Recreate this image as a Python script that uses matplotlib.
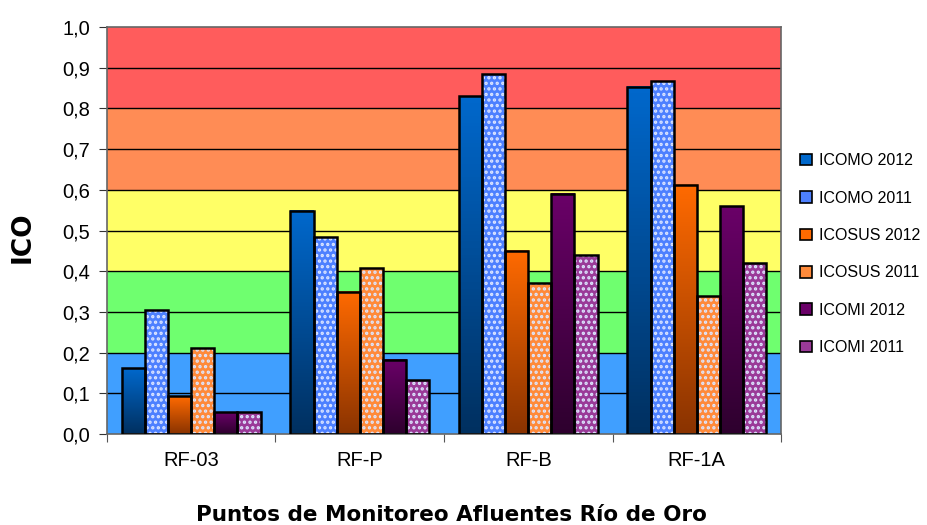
import numpy as np
import matplotlib
matplotlib.use('Agg')
from matplotlib import pyplot as plt
from matplotlib.colors import LinearSegmentedColormap

puntos = ['RF-03', 'RF-P', 'RF-B', 'RF-1A']
series = ['ICOMO 2012', 'ICOMO 2011', 'ICOSUS 2012', 'ICOSUS 2011', 'ICOMI 2012', 'ICOMI 2011']
icomo_2012 = [0.162, 0.548, 0.830, 0.853]
icomo_2011 = [0.305, 0.484, 0.884, 0.867]
icosus_2012 = [0.093, 0.349, 0.450, 0.612]
icosus_2011 = [0.211, 0.408, 0.371, 0.339]
icomi_2012 = [0.054, 0.182, 0.590, 0.560]
icomi_2011 = [0.054, 0.133, 0.440, 0.420]
valores = [icomo_2012, icomo_2011, icosus_2012, icosus_2011, icomi_2012, icomi_2011]

# (top colour, bottom colour, dotted?)
estilos = [('#0068cc', '#003060', False),
           ('#4d80ff', '#4d80ff', True),
           ('#ff6a00', '#8a3300', False),
           ('#ff8a3a', '#ff8a3a', True),
           ('#6a0068', '#2e002e', False),
           ('#9a3a98', '#9a3a98', True)]

bandas = [(0.0, 0.2, '#409fff'), (0.2, 0.4, '#6fff6f'), (0.4, 0.6, '#ffff66'),
          (0.6, 0.8, '#ff8c55'), (0.8, 1.0, '#ff5c5c')]

plt.rcParams['font.family'] = ['Liberation Sans', 'DejaVu Sans']
plt.rcParams['hatch.linewidth'] = 1.6

fig = plt.figure(figsize=(9.28, 5.25), dpi=100)
ax = fig.add_axes([0.1153, 0.1733, 0.7263, 0.7753])

for lo, hi, c in bandas:
    ax.axhspan(lo, hi, color=c, zorder=0, lw=0)
for y in np.arange(0.1, 1.0, 0.1):
    ax.axhline(y, color='black', lw=1.0, zorder=1)

x = np.arange(len(puntos))
w = 0.137
for i, (vals, (top, bot, dots)) in enumerate(zip(valores, estilos)):
    pos = x + (i - 2.5) * w
    cmap = LinearSegmentedColormap.from_list('g%d' % i, [bot, top])
    for xp, v in zip(pos, vals):
        if dots:
            ax.bar(xp, v, w, color=top, edgecolor='#dde6ff', lw=0, hatch='...', zorder=2)
        else:
            grad = np.linspace(0, 1, 100).reshape(-1, 1)
            ax.imshow(grad, cmap=cmap, origin='lower', aspect='auto',
                      extent=(xp - w / 2, xp + w / 2, 0, v), zorder=2)
        ax.bar(xp, v, w, facecolor='none', edgecolor='black', lw=1.8, zorder=3)
    ax.bar(np.nan, np.nan, color=top, edgecolor='black', lw=1.2, label=series[i])

ax.set_xlim(-0.5, 3.5)
ax.set_ylim(0, 1.0)
ticks = np.arange(0, 1.01, 0.1)
ax.set_yticks(ticks)
ax.set_yticklabels([('%.1f' % t).replace('.', ',') for t in ticks])
ax.set_xticks([-0.5, 0.5, 1.5, 2.5, 3.5])
ax.set_xticklabels([])
ax.set_xticks(x, minor=True)
ax.set_xticklabels(puntos, minor=True)
ax.tick_params(axis='x', which='minor', length=0, pad=12, labelsize=14.5)
ax.tick_params(axis='x', which='major', length=6, color='#555555')
ax.tick_params(axis='y', length=6, labelsize=14.5, color='#333333', pad=6)
for s in ax.spines.values():
    s.set_color('#666666')
    s.set_linewidth(1.2)

fig.text(0.024, 1 - 237 / 525, 'ICO', rotation=90, ha='center', va='center',
         fontsize=19, fontweight='bold', family='DejaVu Sans')
fig.text(451 / 928, 1 - 515 / 525, 'Puntos de Monitoreo Afluentes Río de Oro',
         ha='center', va='center', fontsize=15.5, fontweight='bold', family='DejaVu Sans')

ax.legend(loc='center left', bbox_to_anchor=(1.0, 0.442), frameon=False, fontsize=11.5,
          handlelength=0.75, handleheight=0.75, handletextpad=0.45, labelspacing=1.4,
          borderaxespad=0.8)

fig.savefig('out.png', dpi=100)
